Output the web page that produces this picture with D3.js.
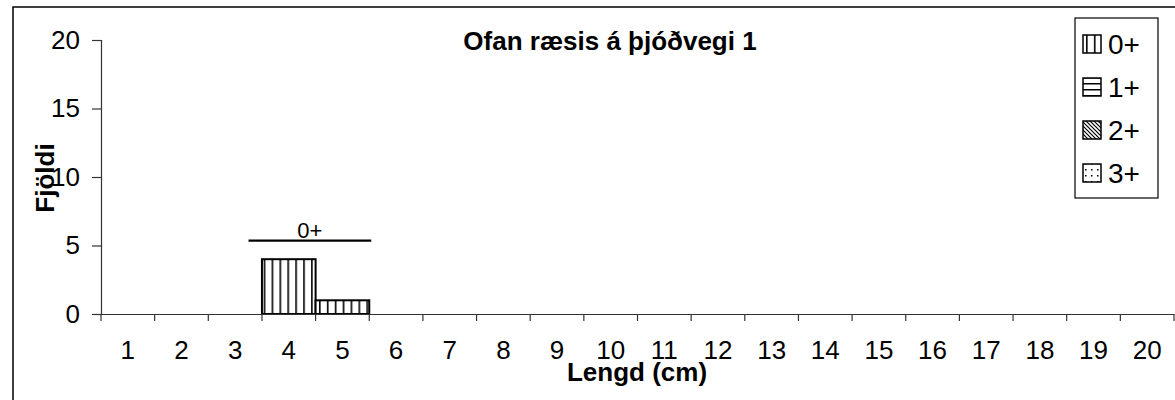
<!DOCTYPE html>
<html>
<head>
<meta charset="utf-8">
<script src="https://cdn.jsdelivr.net/npm/d3@7"></script>
<style>
  html, body { margin: 0; padding: 0; background: #fff; }
  svg text { font-family: "Liberation Sans", Arial, sans-serif; fill: #000; }
</style>
</head>
<body>
<svg id="chart" width="1175" height="400"></svg>
<script>
// Length classes (cm) along the x axis
const lengths = [1, 2, 3, 4, 5, 6, 7, 8, 9, 10, 11, 12, 13, 14, 15, 16, 17, 18, 19, 20];
// Age groups shown in the legend
const ageGroups = ["0+", "1+", "2+", "3+"];
// Counts per length class for each age group
const count0 = [0, 0, 0, 4, 1, 0, 0, 0, 0, 0, 0, 0, 0, 0, 0, 0, 0, 0, 0, 0];
const count1 = [0, 0, 0, 0, 0, 0, 0, 0, 0, 0, 0, 0, 0, 0, 0, 0, 0, 0, 0, 0];
const count2 = [0, 0, 0, 0, 0, 0, 0, 0, 0, 0, 0, 0, 0, 0, 0, 0, 0, 0, 0, 0];
const count3 = [0, 0, 0, 0, 0, 0, 0, 0, 0, 0, 0, 0, 0, 0, 0, 0, 0, 0, 0, 0];
const yTicks = [0, 5, 10, 15, 20];
// Bracket marking the 0+ cohort
const cohortLabel = "0+";
const cohortFrom = 4;
const cohortTo = 5;
const cohortLevel = 5.35;

const titleText = "Ofan ræsis á þjóðvegi 1";
const xTitle = "Lengd (cm)";
const yTitle = "Fjöldi";

const svg = d3.select("#chart");
const W = 1175, H = 400;

// plot area
const plotLeft = 101, plotRight = 1174, plotTop = 40, plotBottom = 314;

const x = d3.scaleBand().domain(lengths).range([plotLeft, plotRight]).padding(0);
const y = d3.scaleLinear().domain([0, 20]).range([plotBottom, plotTop]);

// fill patterns
const defs = svg.append("defs");
function pat(id, w, h, draw) {
  const p = defs.append("pattern").attr("id", id)
    .attr("patternUnits", "userSpaceOnUse").attr("width", w).attr("height", h);
  p.append("rect").attr("width", w).attr("height", h).attr("fill", "#fff");
  draw(p);
}
pat("p0", 7.9, 8, p => p.append("rect").attr("x", 3).attr("y", 0).attr("width", 1.6).attr("height", 8).attr("fill", "#000"));
pat("p1", 8, 6, p => p.append("rect").attr("x", 0).attr("y", 2).attr("width", 8).attr("height", 1.5).attr("fill", "#000"));
pat("p2", 4, 4, p => p.append("path").attr("d", "M-1,-1 L5,5 M-1,3 L1,5 M3,-1 L5,1").attr("stroke", "#000").attr("stroke-width", 1.2));
pat("p3", 6, 6, p => p.append("rect").attr("x", 2).attr("y", 2).attr("width", 1.5).attr("height", 1.5).attr("fill", "#000"));
const fills = ["url(#p0)", "url(#p1)", "url(#p2)", "url(#p3)"];

// outer frame
svg.append("rect").attr("x", 13).attr("y", 7).attr("width", W + 20).attr("height", H + 20)
  .attr("fill", "none").attr("stroke", "#000").attr("stroke-width", 1.5);

// stacked bars
const series = [count0, count1, count2, count3];
const rows = lengths.map((l, i) => {
  const r = { length: l };
  ageGroups.forEach((g, k) => r[g] = series[k][i]);
  return r;
});
const stack = d3.stack().keys(ageGroups)(rows);
svg.append("g").selectAll("g").data(stack).join("g")
  .attr("fill", (d, k) => fills[k])
  .selectAll("rect").data(d => d.filter(s => s[1] - s[0] > 0)).join("rect")
  .attr("x", d => x(d.data.length))
  .attr("y", d => y(d[1]))
  .attr("width", x.bandwidth())
  .attr("height", d => y(d[0]) - y(d[1]))
  .attr("stroke", "#000").attr("stroke-width", 2);

// axes
const xAxis = svg.append("g").attr("transform", `translate(0,${plotBottom})`)
  .call(d3.axisBottom(x).tickSize(0).tickPadding(27));
xAxis.select(".domain").attr("stroke", "#333").attr("stroke-width", 1.2);
xAxis.selectAll("text").attr("font-size", 26).attr("font-family", "Liberation Sans, Arial, sans-serif");
// tick marks on the band boundaries
xAxis.selectAll("line.bnd").data(lengths.concat([null])).join("line").attr("class", "bnd")
  .attr("x1", (d, i) => plotLeft + i * x.bandwidth()).attr("x2", (d, i) => plotLeft + i * x.bandwidth())
  .attr("y1", 0).attr("y2", 7).attr("stroke", "#333").attr("stroke-width", 1.2);

const yAxis = svg.append("g").attr("transform", `translate(${plotLeft},0)`)
  .call(d3.axisLeft(y).tickValues(yTicks).tickSize(9).tickPadding(12));
yAxis.select(".domain").attr("stroke", "#333").attr("stroke-width", 1.2);
yAxis.selectAll(".tick line").attr("stroke", "#333").attr("stroke-width", 1.2);
yAxis.selectAll("text").attr("font-size", 26).attr("font-family", "Liberation Sans, Arial, sans-serif");

// cohort bracket
const bx0 = x(cohortFrom) - x.bandwidth() * 0.25;
const bx1 = x(cohortTo) + x.bandwidth() + 2;
svg.append("line").attr("x1", bx0).attr("x2", bx1)
  .attr("y1", y(cohortLevel)).attr("y2", y(cohortLevel))
  .attr("stroke", "#000").attr("stroke-width", 2.2);
svg.append("text").attr("x", (bx0 + bx1) / 2).attr("y", y(cohortLevel) - 3)
  .attr("text-anchor", "middle").attr("font-size", 22).text(cohortLabel);

// titles
svg.append("text").attr("x", 610).attr("y", 50).attr("text-anchor", "middle")
  .attr("font-size", 26).attr("font-weight", "bold").text(titleText);
svg.append("text").attr("x", 637).attr("y", 381).attr("text-anchor", "middle")
  .attr("font-size", 26).attr("font-weight", "bold").text(xTitle);
svg.append("text").attr("transform", "translate(54,178) rotate(-90)").attr("text-anchor", "middle")
  .attr("font-size", 26).attr("font-weight", "bold").text(yTitle);

// legend
const lg = svg.append("g");
lg.append("rect").attr("x", 1075).attr("y", 18).attr("width", 83).attr("height", 180)
  .attr("fill", "#fff").attr("stroke", "#000").attr("stroke-width", 1.2);
const items = lg.selectAll("g.item").data(ageGroups).join("g").attr("class", "item")
  .attr("transform", (d, i) => `translate(1083,${44 + i * 43})`);
items.append("rect").attr("x", 0).attr("y", -9).attr("width", 18).attr("height", 18)
  .attr("fill", (d, i) => fills[i]).attr("stroke", "#000").attr("stroke-width", 1.5);
items.append("text").attr("x", 25).attr("y", 10).attr("font-size", 28).text(d => d);
</script>
</body>
</html>
